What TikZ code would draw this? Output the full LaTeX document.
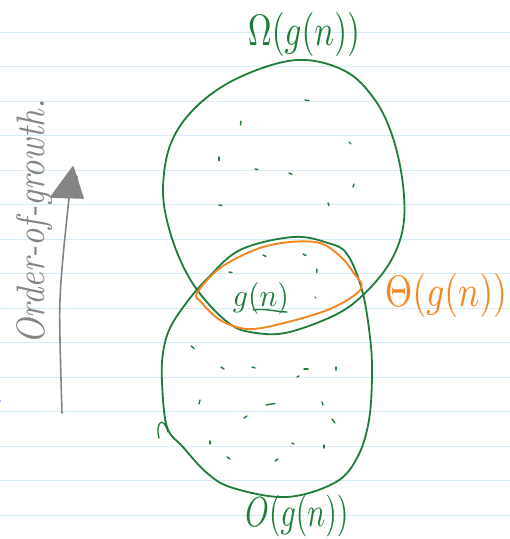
\documentclass[tikz,border=0pt]{standalone}
\usepackage{graphicx}
\definecolor{penGreen}{HTML}{1E7B38}
\definecolor{penOrange}{HTML}{F5861F}
\definecolor{penGrey}{HTML}{848484}
\definecolor{ruleBlue}{HTML}{D6EAF8}
\tikzset{
  ruled/.style={draw=ruleBlue, line width=1.3pt},
  greenpen/.style={draw=penGreen, line width=1.8pt, line cap=round, line join=round},
  orangepen/.style={draw=penOrange, line width=1.9pt, line cap=round, line join=round},
  greypen/.style={draw=penGrey, line width=1.6pt, line cap=round, line join=round},
  tick/.style={draw=penGreen, line width=1.4pt, line cap=round},
  lbl/.style={inner sep=0pt, outer sep=0pt}
}
\begin{document}
\begin{tikzpicture}[x=1pt,y=-1pt]
\useasboundingbox (0,0) rectangle (510,539);
\fill[white] (0,0) rectangle (510,539);
% ruled paper
\foreach \k in {0,...,14} {
  \draw[ruled] (0,{32.3+34.5*\k}) -- (510,{32.3+34.5*\k});
}
\fill[blue!60] (0,401) circle (0.8);

% upper set Omega
\draw[greenpen] plot[smooth cycle, tension=0.6] coordinates {
  (297,60) (345,71) (375,100) (393,138) (403,185) (403,228) (389,264)
  (362,296) (333,316) (285,333) (250,332) (230,324) (206,301)
  (186,272) (170,232) (163,190) (171,143) (197,106) (240,77)};

% lower set O
\draw[greenpen] plot[smooth cycle, tension=0.6] coordinates {
  (293,237) (328,243) (347,254) (362,290) (370,337) (372,375) (369,420)
  (358,456) (336,482) (287,497) (233,488) (207,473) (183,447) (167,427)
  (162,382) (163,353) (170,328) (187,302) (207,279) (240,250)};
\draw[greenpen, line width=1.3pt] (159,438) .. controls (155,424) and (163,414) .. (168,432) -- (165,420);

% Theta set
\draw[orangepen] plot[smooth cycle, tension=0.55] coordinates {
  (197,293) (220,268) (257,249) (290,242) (320,243) (340,256) (353,272)
  (361,289) (330,309) (280,324) (247,329) (220,320) (201,302)};

% tick marks
\foreach \x/\y/\dx/\dy in {
  305/100/4/0.6, 241/121/-0.5/4, 349/142/2/2, 219/157/0/3.5, 255/169/3/0.5,
  289/173/3/1.5, 354/184/-1/3, 219/205/3/0.5, 328/203/1/2.5,
  263/255/3/1.5, 303/254/3/1.5, 317/269/-0.3/3.5, 229/272/3/0.5, 315/297/0.8/0.8,
  191/346/3/2.5, 221/367/3/2, 252/367/3/1, 304/369/4/0, 297/377/2/-1, 336/367/0/3,
  200/400/-1/4, 266/405/9/-1.5, 322/402/1/3, 244/418/3/-2, 332/419/3/4,
  210/441/0/3, 292/443/2/1, 324/445/0/3, 227/457/3/2, 275/461/3/-2} {
  \draw[tick] (\x,\y) -- ++(\dx,\dy);
}

% labels
\node[lbl, text=penGreen] (omega) at (304,34)
  {\resizebox*{112pt}{44pt}{$\Omega(g(n))$}};
\node[lbl, text=penGreen] (bigo) at (297,516)
  {\resizebox*{103pt}{42pt}{$O(g(n))$}};
\node[lbl, text=penOrange] (theta) at (446,295)
  {\resizebox*{122pt}{44pt}{$\Theta(g(n))$}};
\node[lbl, text=penGreen] (gn) at (261,298)
  {\resizebox*{56pt}{32pt}{$g(n)$}};
\draw[greenpen, line width=1.4pt] (253,310) .. controls (265,308) and (277,312) .. (287,312);

% order-of-growth arrow
\coordinate (abase) at (62,413);
\coordinate (atop) at (69,198);
\draw[greypen] plot[smooth, tension=0.6] coordinates {(abase) (60,340) (60,300) (63,257) (atop)};
\filldraw[greypen, fill=penGrey] (51,197) -- (83,198) -- (73,167) -- cycle;
\draw[greypen, line width=1.2pt] (57,192) -- (72,170) -- (66,196) -- (77,176) -- (79,196);
\node[lbl, text=penGrey, rotate=90] (oog) at (35,222)
  {\resizebox{245pt}{28pt}{\itshape Order-of-growth.}};
\end{tikzpicture}
\end{document}
